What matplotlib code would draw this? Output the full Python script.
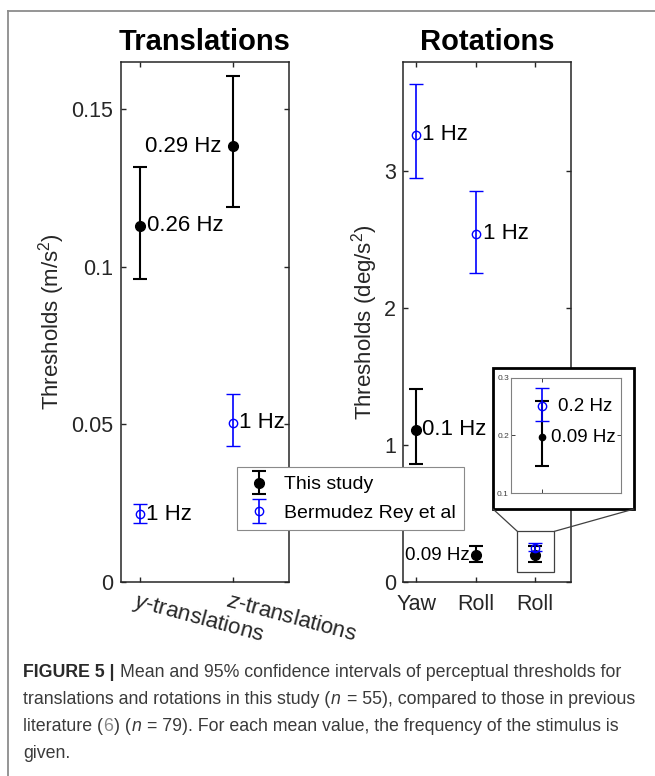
import matplotlib
matplotlib.use('Agg')
import matplotlib.pyplot as plt
from matplotlib.patches import Rectangle, ConnectionPatch
from matplotlib.lines import Line2D
from matplotlib.transforms import ScaledTranslation
from matplotlib.legend_handler import HandlerErrorbar
from matplotlib.container import ErrorbarContainer

plt.rcParams['font.family'] = ['Liberation Sans', 'DejaVu Sans']
plt.rcParams['mathtext.fontset'] = 'custom'
plt.rcParams['mathtext.rm'] = 'Liberation Sans'
plt.rcParams['mathtext.it'] = 'Liberation Sans:italic'
plt.rcParams['mathtext.bf'] = 'Liberation Sans:bold'

# ---------------- data ----------------
trans_labels = [r'$\mathit{y}$-translations', r'$\mathit{z}$-translations']
trans_x = [1, 2]
trans_this_mean = [0.113, 0.1383]
trans_this_lo = [0.0962, 0.119]
trans_this_hi = [0.1316, 0.1604]
trans_this_freq = ['0.26 Hz', '0.29 Hz']
trans_prev_mean = [0.0215, 0.0506]
trans_prev_lo = [0.0187, 0.043]
trans_prev_hi = [0.0247, 0.0598]
trans_prev_freq = ['1 Hz', '1 Hz']

rot_labels = ['Yaw', 'Roll', 'Roll']
rot_x = [1, 2, 3]
rot_this_mean = [1.112, 0.197, 0.197]
rot_this_lo = [0.863, 0.147, 0.147]
rot_this_hi = [1.41, 0.26, 0.26]
rot_this_freq = ['0.1 Hz', '0.09 Hz', '0.09 Hz']
rot_prev_mean = [3.27, 2.546, 0.251]
rot_prev_lo = [2.955, 2.26, 0.225]
rot_prev_hi = [3.64, 2.86, 0.283]
rot_prev_freq = ['1 Hz', '1 Hz', '0.2 Hz']

legend_labels = ['This study', 'Bermudez Rey et al']
titles = ['Translations', 'Rotations']
ylabels = ['Thresholds (m/s$^2$)', 'Thresholds (deg/s$^2$)']
trans_yticks = [0, 0.05, 0.1, 0.15]
trans_yticklabels = ['0', '0.05', '0.1', '0.15']
rot_yticks = [0, 1, 2, 3]
inset_yticks = [0.1, 0.2, 0.3]

caption_lines = [
    [('FIGURE 5 |', 'bold'), ('Mean and 95% confidence intervals of perceptual thresholds for', 'normal')],
    [('translations and rotations in this study (', 'normal'), ('n', 'italic'),
     ('= 55), compared to those in previous', 'normal')],
    [('literature (', 'normal'), ('6', 'link'), (') (', 'normal'), ('n', 'italic'),
     ('= 79). For each mean value, the frequency of the stimulus is', 'normal')],
    [('given.', 'normal')],
]

W, H = 655, 776
fig = plt.figure(figsize=(W / 100, H / 100), dpi=100)
fig.patch.set_facecolor('white')

def fx(px):
    return px / W

def fy(py):
    return 1 - py / H

AXC = '#262626'

def style_axes(ax, fs=15.5, ypad=5.5, xpad=8.5):
    for s in ax.spines.values():
        s.set_color(AXC)
        s.set_linewidth(1.1)
    ax.tick_params(direction='in', length=3.8, width=1.0, color=AXC,
                   top=True, right=True, labelsize=fs, labelcolor=AXC)
    ax.tick_params(axis='y', pad=ypad)
    ax.tick_params(axis='x', pad=xpad)

def yerr(mean, lo, hi):
    return [[m - l for m, l in zip(mean, lo)], [h - m for m, h in zip(mean, hi)]]

black_kw = dict(fmt='o', color='black', ms=7, lw=1.5, capsize=5, capthick=1.5, zorder=3)
blue_kw = dict(fmt='o', color='blue', mfc='none', mec='blue', ms=6, mew=1.0, lw=1.2,
               capsize=5, capthick=1.2, zorder=4)

# ---------------- Translations ----------------
ax1 = fig.add_axes([fx(121), fy(582), fx(168), 520 / H])
h_this = ax1.errorbar(trans_x, trans_this_mean, yerr=yerr(trans_this_mean, trans_this_lo, trans_this_hi), **black_kw)
h_prev = ax1.errorbar(trans_x, trans_prev_mean, yerr=yerr(trans_prev_mean, trans_prev_lo, trans_prev_hi), **blue_kw)
ax1.set_xlim(0.8, 2.6)
ax1.set_ylim(0, 0.165)
ax1.set_yticks(trans_yticks)
ax1.set_yticklabels(trans_yticklabels)
ax1.set_xticks(trans_x)
ax1.set_xticklabels(trans_labels)
style_axes(ax1, ypad=5.8, xpad=13.5)
for lab in ax1.get_xticklabels():
    lab.set_rotation(-15)
    lab.set_rotation_mode('anchor')
    lab.set_ha('left')
    lab.set_va('center')
    lab.set_fontsize(16)
    lab.set_transform(lab.get_transform() + ScaledTranslation(-6 / 100, 0, fig.dpi_scale_trans))
ax1.set_title(titles[0], fontsize=21, fontweight='bold', pad=8.6)
ax1.set_ylabel(ylabels[0], fontsize=16, color=AXC)
ax1.yaxis.set_label_coords(-0.324, 0.5)

ax1.annotate(trans_this_freq[0], (trans_x[0], trans_this_mean[0]), xytext=(5, 0),
             textcoords='offset points', ha='left', va='center', fontsize=16)
ax1.annotate(trans_this_freq[1], (trans_x[1], trans_this_mean[1]), xytext=(-8, 0),
             textcoords='offset points', ha='right', va='center', fontsize=16)
for xv, yv, t in zip(trans_x, trans_prev_mean, trans_prev_freq):
    ax1.annotate(t, (xv, yv), xytext=(4.6, 0), textcoords='offset points',
                 ha='left', va='center', fontsize=16)

# ---------------- Rotations ----------------
ax2 = fig.add_axes([fx(403), fy(582), fx(168), 520 / H])
ax2.errorbar(rot_x, rot_this_mean, yerr=yerr(rot_this_mean, rot_this_lo, rot_this_hi), **black_kw)
ax2.errorbar(rot_x, rot_prev_mean, yerr=yerr(rot_prev_mean, rot_prev_lo, rot_prev_hi), **blue_kw)
ax2.set_xlim(0.78, 3.6)
ax2.set_ylim(0, 3.8)
ax2.set_yticks(rot_yticks)
ax2.set_xticks(rot_x)
ax2.set_xticklabels(rot_labels)
style_axes(ax2, ypad=5.0, xpad=8.5)
ax2.set_title(titles[1], fontsize=21, fontweight='bold', pad=8.6)
ax2.set_ylabel(ylabels[1], fontsize=16, color=AXC)
ax2.yaxis.set_label_coords(-0.137, 0.5)

ax2.annotate(rot_prev_freq[0], (rot_x[0], rot_prev_mean[0]), xytext=(4.3, 0),
             textcoords='offset points', ha='left', va='center', fontsize=16)
ax2.annotate(rot_prev_freq[1], (rot_x[1], rot_prev_mean[1]), xytext=(5, 0),
             textcoords='offset points', ha='left', va='center', fontsize=16)
ax2.annotate(rot_this_freq[0], (rot_x[0], rot_this_mean[0]), xytext=(4.3, 0),
             textcoords='offset points', ha='left', va='center', fontsize=16)
ax2.annotate(rot_this_freq[1], (rot_x[1], rot_this_mean[1]), xytext=(-4.3, 0),
             textcoords='offset points', ha='right', va='center', fontsize=13.5)

# zoom rectangle in main axes
ax2.add_patch(Rectangle((2.70, 0.07), 0.62, 0.30, fill=False, ec='#404040', lw=0.9, zorder=5))

# outer zoom box (figure coords)
box = Rectangle((fx(493), fy(509)), fx(141), 141 / H, transform=fig.transFigure,
                fc='white', ec='black', lw=2.0, zorder=2)
fig.add_artist(box)
for xa, xb in [(493, 2.70), (634, 3.32)]:
    cp = ConnectionPatch(xyA=(fx(xa), fy(509)), coordsA=fig.transFigure,
                         xyB=(xb, 0.37), coordsB=ax2.transData,
                         color='#404040', lw=0.9, zorder=2)
    fig.add_artist(cp)

# ---------------- Inset ----------------
axi = fig.add_axes([fx(511), fy(493), fx(110), 115 / H], zorder=3)
axi.errorbar([rot_x[2]], [rot_this_mean[2]],
             yerr=yerr([rot_this_mean[2]], [rot_this_lo[2]], [rot_this_hi[2]]),
             fmt='o', color='black', ms=4.5, lw=1.5, capsize=5, capthick=1.5, zorder=3)
axi.errorbar([rot_x[2]], [rot_prev_mean[2]],
             yerr=yerr([rot_prev_mean[2]], [rot_prev_lo[2]], [rot_prev_hi[2]]),
             fmt='o', color='blue', mfc='none', mec='blue', ms=6, mew=1.0, lw=1.2,
             capsize=5, capthick=1.2, zorder=4)
axi.set_xlim(2.8, 3.5)
axi.set_ylim(0.1, 0.3)
axi.set_xticks([3])
axi.set_xticklabels([])
axi.set_yticks(inset_yticks)
axi.set_yticklabels([str(v) for v in inset_yticks])
for s in axi.spines.values():
    s.set_color('#808080')
    s.set_linewidth(0.8)
axi.tick_params(direction='in', length=3, width=0.7, color='#404040', top=True, right=True,
                labelsize=6, labelcolor='#404040', pad=1.5)
axi.annotate(rot_prev_freq[2], (rot_x[2], rot_prev_mean[2]), xytext=(11.5, 0),
             textcoords='offset points', ha='left', va='center', fontsize=13.5)
axi.annotate(rot_this_freq[2], (rot_x[2], rot_this_mean[2]), xytext=(6.5, 0),
             textcoords='offset points', ha='left', va='center', fontsize=13.5)

# ---------------- Legend ----------------
leg = fig.legend([h_this, h_prev], legend_labels, loc='upper left',
                 bbox_to_anchor=(fx(237), fy(467)), bbox_transform=fig.transFigure,
                 borderaxespad=0, fontsize=14, frameon=True, fancybox=False,
                 edgecolor='#8a8a8a', framealpha=1, borderpad=0.45, handlelength=1.4,
                 handletextpad=0.55, labelspacing=0.55,
                 handler_map={ErrorbarContainer: HandlerErrorbar(yerr_size=0.6)})
leg.get_frame().set_linewidth(0.8)
leg.set_zorder(10)

# ---------------- Frame lines ----------------
fig.add_artist(Line2D([fx(8), 1], [fy(11), fy(11)], transform=fig.transFigure,
                      color='#8c8c8c', lw=1.3))
fig.add_artist(Line2D([fx(8), fx(8)], [0, fy(11)], transform=fig.transFigure,
                      color='#8c8c8c', lw=1.3))

# ---------------- Caption ----------------
cap_family = ['Liberation Sans']
styles = {
    'normal': dict(color='#3a3a3a'),
    'bold': dict(color='#2a2a2a', fontweight='bold'),
    'italic': dict(color='#3a3a3a', fontstyle='italic'),
    'link': dict(color='#8a8a8a'),
}
renderer = fig.canvas.get_renderer()

def draw_line(line, yb, fs, draw=True):
    x = 23
    prev = None
    texts = []
    space_px = 0.278 * fs * 100 / 72
    for txt, st in line:
        if prev in ('bold', 'italic'):
            x += space_px
        t = fig.text(fx(x), fy(yb), txt, fontsize=fs, family=cap_family, va='baseline',
                     ha='left', **styles[st])
        texts.append(t)
        bb = t.get_window_extent(renderer)
        x = bb.x1 + (1 if st == 'italic' else 0.5)
        prev = st
    return x, texts

# fit the widest line (line 2) to the reference width
end_x, tmp = draw_line(caption_lines[1], 704, 14)
for t in tmp:
    t.remove()
cap_fs = 14 * (640 - 23) / (end_x - 23)

baselines = [677, 704, 731, 758]
for line, yb in zip(caption_lines, baselines):
    draw_line(line, yb, cap_fs)

fig.savefig('out.png', dpi=100)
